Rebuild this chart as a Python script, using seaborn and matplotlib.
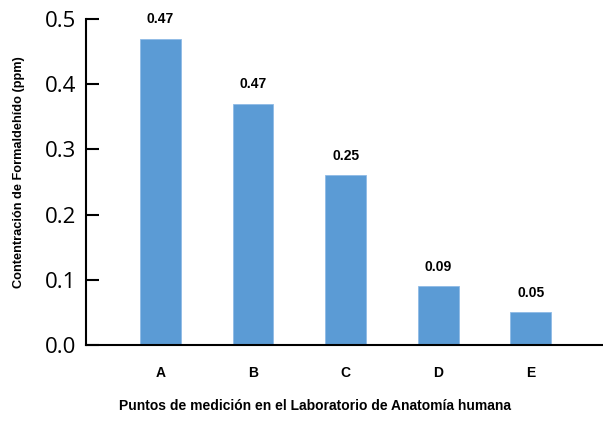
import matplotlib
matplotlib.use("Agg")
import matplotlib.pyplot as plt
import seaborn as sns
import pandas as pd

# data
puntos = ["A", "B", "C", "D", "E"]
concentracion = [0.47, 0.37, 0.26, 0.09, 0.05]
etiquetas = ["0.47", "0.47", "0.25", "0.09", "0.05"]  # labels as printed on the chart
y_ticks = [0.0, 0.1, 0.2, 0.3, 0.4, 0.5]

df = pd.DataFrame({"punto": puntos, "ppm": concentracion})

sns.set_style("white")
plt.rcParams["font.family"] = ["Liberation Sans", "DejaVu Sans"]
plt.rcParams["text.color"] = "black"
plt.rcParams["axes.labelcolor"] = "black"
plt.rcParams["xtick.color"] = "black"
plt.rcParams["ytick.color"] = "black"

fig = plt.figure(figsize=(6.03, 4.23), dpi=100)
ax = fig.add_axes([0.1426, 0.1844, 0.8574, 0.7706])

sns.barplot(data=df, x="punto", y="ppm", color="#5b9bd5", saturation=1,
            width=0.44, edgecolor="#8fbbe6", linewidth=0.6, ax=ax)

# value labels on top of the bars
for i, (v, txt) in enumerate(zip(concentracion, etiquetas)):
    ax.annotate(txt, (i, v), xytext=(0, 9), textcoords="offset points",
                ha="center", va="bottom", fontsize=10, fontweight="bold",
                color="black")

ax.set_xlim(-0.805, 4.78)
ax.set_ylim(0, 0.5)
ax.set_yticks(y_ticks)
ax.set_yticklabels([f"{t:.1f}" for t in y_ticks], family="Open Sans", fontsize=16)

for s in ["top", "right"]:
    ax.spines[s].set_visible(False)
for s in ["left", "bottom"]:
    ax.spines[s].set_color("black")
    ax.spines[s].set_linewidth(1.5)

ax.tick_params(axis="y", direction="in", length=9, width=1.5, pad=7, left=True)
ax.tick_params(axis="x", length=0, pad=15, labelsize=10)
for lab in ax.get_xticklabels():
    lab.set_fontweight("bold")

ax.set_xlabel("Puntos de medición en el Laboratorio de Anatomía humana",
              fontsize=10, fontweight="bold", labelpad=19)
ax.xaxis.set_label_coords(0.443, -0.165)
ax.set_ylabel("Contentración de Formaldehído (ppm)",
              fontsize=9.2, fontweight="bold")
ax.yaxis.set_label_coords(-0.118, 0.53)

fig.savefig("out.png", dpi=100)
